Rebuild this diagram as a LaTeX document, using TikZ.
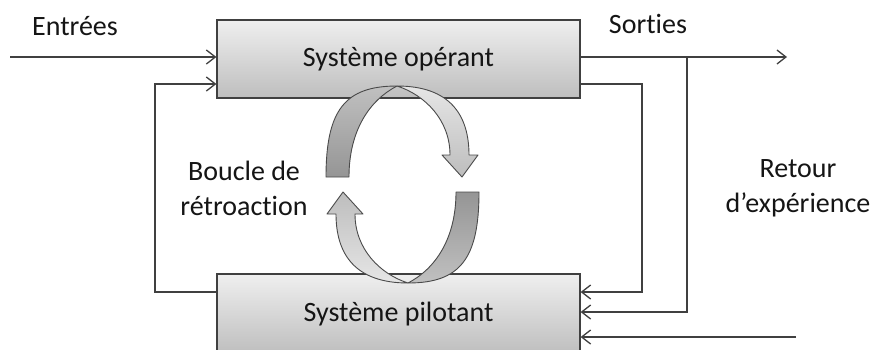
\documentclass[tikz,border=0pt]{standalone}
\usepackage{fontspec}
\setmainfont[Ligatures=NoCommon]{Carlito}
\usetikzlibrary{arrows.meta}
\definecolor{ln}{HTML}{404040}
\definecolor{txt}{HTML}{151515}
\definecolor{boxtop}{HTML}{EFEFEF}
\definecolor{boxbot}{HTML}{BEBEBE}
\definecolor{rib}{HTML}{4A4A4A}
\definecolor{darkA}{HTML}{C0C0C0}
\definecolor{darkB}{HTML}{959595}
\definecolor{lightA}{HTML}{E6E6E6}
\definecolor{lightB}{HTML}{BDBDBD}
\begin{document}
\begin{tikzpicture}[x=1pt,y=-1pt,
  conn/.style={draw=ln, line width=1.3pt, -{Straight Barb[length=9pt,width=14pt,line width=1.3pt]}},
  sysbox/.style={draw=ln, line width=1.2pt, top color=boxtop, bottom color=boxbot,
    minimum width=363pt, inner sep=0pt, font=\fontsize{28}{34}\selectfont, text=txt},
  lab/.style={font=\fontsize{28}{35}\selectfont, text=txt, inner sep=0pt, align=center},
  ribbon/.style={draw=rib, line width=0.9pt, line join=round}
]
\useasboundingbox (0,0) rectangle (876,349);
\clip (0,0) rectangle (876,349);
\fill[white] (0,0) rectangle (876,349);

% boxes
\node[sysbox, minimum height=78pt] (op) at (398.5,59) {Système opérant};
\node[sysbox, minimum height=80pt] (pil) at (398.5,314) {Système pilotant};

% circular arrows (top)
\path[ribbon, top color=darkA, bottom color=darkB]
  (326,177) .. controls (326,110) and (345,86) .. (397,86)
  .. controls (370,100) and (349,130) .. (349,177) -- cycle;
\path[ribbon, top color=lightA, bottom color=lightB]
  (397,86) .. controls (450,86) and (469,115) .. (469,155)
  -- (478,155) -- (462,177) -- (442,155) -- (450,155)
  .. controls (450,120) and (425,95) .. (397,86) -- cycle;
% circular arrows (bottom)
\path[ribbon, top color=darkB, bottom color=darkA]
  (479,192) .. controls (479,259) and (460,283) .. (408,283)
  .. controls (435,269) and (456,239) .. (456,192) -- cycle;
\path[ribbon, top color=lightB, bottom color=lightA]
  (408,283) .. controls (355,283) and (336,254) .. (336,214)
  -- (327,214) -- (343,192) -- (363,214) -- (355,214)
  .. controls (355,249) and (380,274) .. (408,283) -- cycle;

% labels
\node[lab, anchor=base] (ent) at (75,35) {Entrées};
\node[lab, anchor=base] (sor) at (648,33) {Sorties};
\node[lab] (bou) at (244,188) {Boucle de\\rétroaction};
\node[lab] (ret) at (798,188) {Retour\\d’expérience};

% connectors
\coordinate (in1) at (10,57);
\draw[conn] (in1) -- (in1 -| op.west);
\coordinate (l1) at (155,292);
\coordinate (l2) at (155,84);
\draw[conn] (l1 -| pil.west) -- (l1) -- (l2) -- (l2 -| op.west);
\coordinate (out) at (787,57);
\draw[conn] (out -| op.east) -- (out);
\coordinate (r1t) at (642,84);
\coordinate (r1b) at (642,292);
\draw[conn] (r1t -| op.east) -- (r1t) -- (r1b) -- (r1b -| pil.east);
\coordinate (r2t) at (687,57);
\coordinate (r2b) at (687,312);
\draw[conn] (r2t) -- (r2b) -- (r2b -| pil.east);
\coordinate (in3) at (796,337);
\draw[conn] (in3) -- (in3 -| pil.east);
\end{tikzpicture}
\end{document}
